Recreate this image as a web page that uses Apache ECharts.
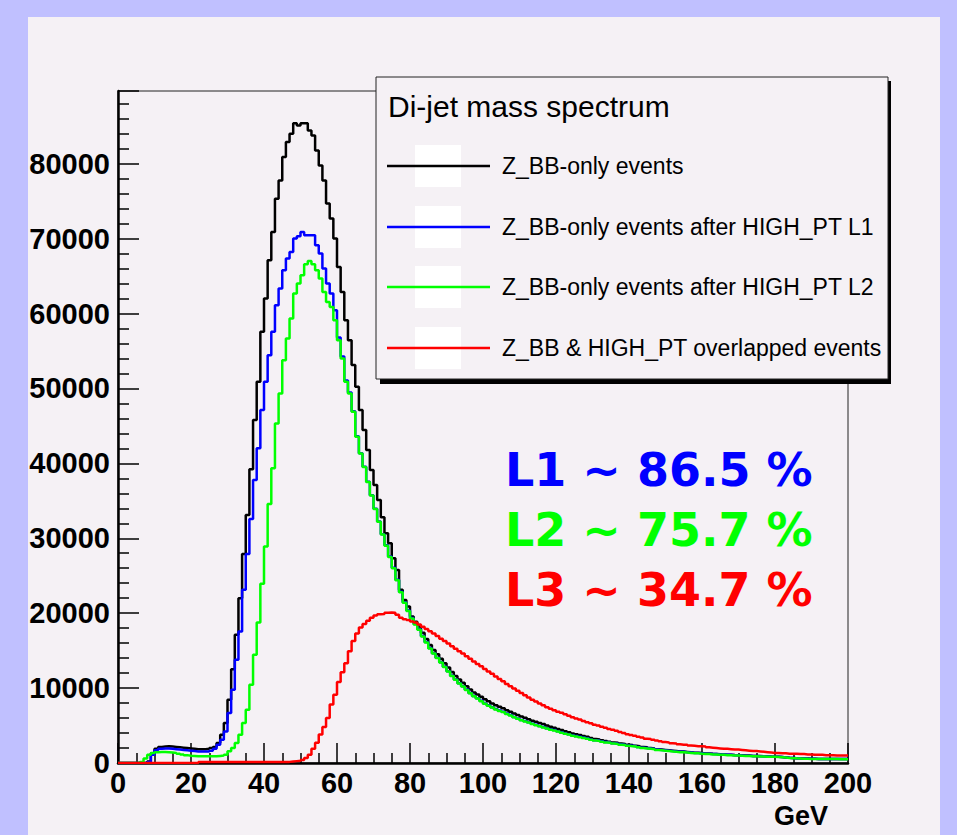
<!DOCTYPE html>
<html>
<head>
<meta charset="utf-8">
<title>Di-jet mass spectrum</title>
<script src="https://cdn.jsdelivr.net/npm/echarts@6/dist/echarts.min.js"></script>
<style>
  html, body { margin: 0; padding: 0; background: #c0c0ff; }
  #dijet-mass { width: 957px; height: 835px; }
</style>
</head>
<body>
<div id="dijet-mass"></div>
<script>
// bins: 1 GeV wide, lower edges 0..199
var binStart = 0
var binWidth = 1

var seriesNames = [
  'Z_BB-only events',
  'Z_BB-only events after HIGH_PT L1',
  'Z_BB-only events after HIGH_PT L2',
  'Z_BB & HIGH_PT overlapped events'
]
var seriesColors = ['#000000', '#0000ff', '#00ff00', '#ff0000']

// Z_BB-only
var zbbOnly = [
  0, 0, 0, 0, 0, 0, 0, 0, 200, 1300,
  1900, 2150, 2200, 2250, 2200, 2150, 2100, 2050, 2000, 1950,
  1900, 1850, 1850, 1850, 1900, 2000, 2150, 2670, 3770, 5330,
  8440, 12530, 17110, 22000, 27910, 33110, 39200, 45770, 50880, 57550,
  62000, 67110, 70880, 75330, 77770, 80880, 82880, 84000, 85400, 85100,
  85400, 85400, 84440, 83770, 81770, 79770, 77770, 74670, 72670, 70000,
  66210, 62880, 59110, 56440, 53110, 50210, 47110, 44440, 41770, 39110,
  37110, 35110, 32800, 30670, 29330, 27330, 25770, 23110, 21770, 20880,
  19550, 18850, 18230, 17400, 16550, 15750, 15100, 14500, 13900, 13300,
  12750, 12150, 11600, 11150, 10700, 10250, 9800, 9400, 9150, 8850,
  8500, 8250, 7950, 7700, 7500, 7300, 7050, 6850, 6600, 6400,
  6200, 6050, 5850, 5650, 5500, 5350, 5200, 5000, 4850, 4700,
  4550, 4400, 4250, 4100, 3950, 3850, 3750, 3600, 3500, 3350,
  3200, 3150, 3050, 2950, 2850, 2750, 2700, 2600, 2550, 2450,
  2400, 2300, 2250, 2150, 2100, 2000, 1950, 1850, 1800, 1750,
  1700, 1650, 1600, 1550, 1520, 1480, 1420, 1380, 1360, 1320,
  1280, 1260, 1220, 1200, 1160, 1150, 1100, 1100, 1060, 1040,
  1020, 1000, 990, 950, 940, 920, 900, 880, 860, 850,
  830, 790, 750, 710, 680, 650, 630, 610, 590, 570,
  560, 550, 550, 550, 540, 540, 540, 530, 530, 530
]

// after HIGH_PT L1
var afterL1 = [
  0, 0, 0, 0, 0, 0, 0, 0, 150, 1100,
  1700, 1900, 1950, 1950, 1900, 1850, 1800, 1750, 1700, 1650,
  1600, 1550, 1550, 1550, 1550, 1650, 1900, 2440, 3110, 4220,
  6670, 9770, 13780, 17560, 23110, 27910, 32580, 37780, 42000, 47110,
  50880, 54440, 57550, 61110, 63330, 65770, 67330, 68220, 70000, 70310,
  70880, 70440, 70440, 70440, 69110, 68000, 66000, 64000, 62670, 60440,
  56800, 54250, 51050, 49450, 46950, 43600, 41350, 39550, 37550, 35750,
  33950, 32250, 30550, 29050, 27550, 26050, 24450, 22850, 21450, 20350,
  19350, 18550, 17850, 16950, 16150, 15350, 14650, 14050, 13450, 12850,
  12250, 11650, 11150, 10650, 10250, 9800, 9350, 8950, 8650, 8300,
  7950, 7700, 7450, 7200, 7000, 6850, 6600, 6400, 6150, 5950,
  5750, 5600, 5450, 5250, 5100, 4950, 4800, 4650, 4500, 4400,
  4240, 4090, 3940, 3840, 3690, 3590, 3490, 3390, 3290, 3140,
  3040, 2990, 2890, 2790, 2740, 2640, 2590, 2490, 2440, 2340,
  2290, 2240, 2140, 2040, 1990, 1940, 1890, 1790, 1740, 1690,
  1640, 1590, 1540, 1490, 1490, 1440, 1390, 1340, 1340, 1290,
  1240, 1240, 1190, 1190, 1140, 1140, 1090, 1090, 1040, 1040,
  1010, 980, 980, 930, 930, 910, 900, 880, 860, 850,
  830, 790, 750, 710, 680, 650, 625, 605, 585, 570,
  560, 550, 550, 550, 540, 540, 540, 530, 530, 530
]

// after HIGH_PT L2
var afterL2 = [
  0, 0, 0, 0, 0, 0, 150, 600, 1100, 1350,
  1450, 1480, 1480, 1450, 1400, 1350, 1250, 1150, 1050, 980,
  940, 900, 890, 890, 890, 890, 900, 950, 1000, 1110,
  1560, 2000, 2670, 3780, 5330, 7110, 10440, 14440, 18760, 23910,
  28890, 34580, 39330, 45330, 49330, 53770, 56670, 59330, 62670, 64000,
  65110, 66570, 67020, 66570, 65770, 64660, 62880, 61550, 60880, 59110,
  56440, 54000, 50880, 49330, 46880, 43550, 41300, 39500, 37500, 35700,
  33900, 32200, 30500, 29000, 27500, 26000, 24400, 22800, 21400, 20300,
  19300, 18500, 17800, 16900, 16100, 15300, 14600, 14000, 13400, 12800,
  12200, 11600, 11100, 10600, 10200, 9750, 9300, 8900, 8600, 8250,
  7900, 7650, 7400, 7150, 6950, 6800, 6550, 6350, 6100, 5900,
  5700, 5550, 5400, 5200, 5050, 4900, 4750, 4600, 4450, 4350,
  4200, 4050, 3900, 3800, 3650, 3550, 3450, 3350, 3250, 3100,
  3000, 2950, 2850, 2750, 2700, 2600, 2550, 2450, 2400, 2300,
  2250, 2200, 2100, 2000, 1950, 1900, 1850, 1750, 1700, 1650,
  1600, 1550, 1500, 1450, 1450, 1400, 1350, 1300, 1300, 1250,
  1200, 1200, 1150, 1150, 1100, 1100, 1050, 1050, 1000, 1000,
  980, 950, 950, 900, 900, 880, 870, 850, 830, 820,
  800, 760, 720, 680, 650, 620, 600, 580, 560, 550,
  540, 530, 530, 530, 520, 520, 520, 510, 510, 510
]

// Z_BB & HIGH_PT overlapped
var overlapped = [
  0, 0, 0, 0, 0, 0, 0, 0, 0, 0,
  0, 0, 0, 0, 0, 0, 0, 0, 0, 0,
  0, 0, 130, 130, 130, 130, 130, 130, 130, 130,
  130, 130, 130, 130, 130, 130, 130, 130, 130, 130,
  130, 130, 130, 130, 130, 130, 150, 200, 250, 300,
  400, 670, 1110, 1900, 2700, 3800, 4800, 6000, 7800, 9100,
  10800, 12100, 13300, 14900, 16300, 17300, 18100, 18550, 19000, 19400,
  19700, 19850, 19900, 20050, 20080, 20050, 19800, 19400, 19200, 19100,
  18900, 18750, 18500, 18200, 17900, 17600, 17300, 16950, 16600, 16300,
  15950, 15600, 15250, 14900, 14600, 14250, 13900, 13550, 13200, 12900,
  12550, 12200, 11900, 11550, 11200, 10900, 10550, 10250, 9950, 9650,
  9350, 9050, 8750, 8450, 8200, 7950, 7700, 7450, 7250, 7050,
  6850, 6700, 6500, 6300, 6100, 5950, 5800, 5600, 5450, 5300,
  5100, 5000, 4850, 4700, 4550, 4450, 4300, 4150, 4000, 3850,
  3750, 3650, 3500, 3400, 3250, 3200, 3100, 3000, 2900, 2800,
  2750, 2650, 2600, 2500, 2450, 2450, 2350, 2300, 2250, 2250,
  2200, 2100, 2050, 2000, 1950, 1900, 1900, 1850, 1800, 1800,
  1750, 1700, 1650, 1600, 1600, 1550, 1500, 1450, 1400, 1350,
  1350, 1300, 1300, 1250, 1250, 1250, 1200, 1200, 1150, 1150,
  1100, 1100, 1100, 1050, 1050, 1050, 1000, 1000, 1000, 1000
]

var efficiencyTexts = ['L1 ~ 86.5 %', 'L2 ~ 75.7 %', 'L3 ~ 34.7 %']
var efficiencyColors = ['#0000ff', '#00ff00', '#ff0000']

var axisFont = "'Liberation Sans', Arial, sans-serif"

dijetMassSpectrum()


// bin values -> step line points (last bin closed at its upper edge)
function histPoints(values) {
  var pts = []
  for (var i = 0; i < values.length; i++) {
    pts.push([binStart + i * binWidth, values[i]])
  }
  pts.push([binStart + values.length * binWidth, values[values.length - 1]])
  return pts
}


function dijetMassSpectrum() {
  var myChart = echarts.init(document.getElementById('dijet-mass'), null, { renderer: 'svg' })

  var allValues = [zbbOnly, afterL1, afterL2, overlapped]
  var series = []
  for (var i = 0; i < allValues.length; i++) {
    series.push({
      name: seriesNames[i],
      type: 'line',
      step: 'end',
      symbol: 'none',
      silent: true,
      lineStyle: { color: seriesColors[i], width: 2.5 },
      data: histPoints(allValues[i])
    })
  }

  // legend box (ROOT style) drawn by hand
  var legendY = [166, 227, 287, 348]
  var graphics = [
    { type: 'rect', z: -10, shape: { x: 28, y: 17, width: 912, height: 818 }, style: { fill: '#f5f1f5' } },
    { type: 'rect', z: 100, shape: { x: 380, y: 81, width: 511, height: 303 }, style: { fill: '#000' } },
    { type: 'rect', z: 101, shape: { x: 376, y: 77, width: 512, height: 302 }, style: { fill: '#f5f1f5', stroke: '#222', lineWidth: 1 } },
    {
      type: 'text', z: 102, x: 388, y: 106,
      style: { text: 'Di-jet mass spectrum', fill: '#000', font: "30px " + axisFont, align: 'left', verticalAlign: 'middle' }
    },
    {
      type: 'text', z: 102, x: 828, y: 816,
      style: { text: 'GeV', fill: '#000', font: "bold 27px " + axisFont, align: 'right', verticalAlign: 'middle' }
    }
  ]
  for (var j = 0; j < seriesNames.length; j++) {
    graphics.push({ type: 'rect', z: 102, shape: { x: 415, y: legendY[j] - 21, width: 46, height: 42 }, style: { fill: '#ffffff' } })
    graphics.push({ type: 'line', z: 103, shape: { x1: 387, y1: legendY[j], x2: 490, y2: legendY[j] }, style: { stroke: seriesColors[j], lineWidth: 2.5 } })
    graphics.push({
      type: 'text', z: 103, x: 502, y: legendY[j],
      style: { text: seriesNames[j], fill: '#000', font: "23px " + axisFont, align: 'left', verticalAlign: 'middle' }
    })
  }
  var effY = [470, 530, 590]
  for (var k = 0; k < efficiencyTexts.length; k++) {
    graphics.push({
      type: 'text', z: 103, x: 505, y: effY[k],
      style: { text: efficiencyTexts[k], fill: efficiencyColors[k], font: "bold 46px 'DejaVu Sans', sans-serif", align: 'left', verticalAlign: 'middle' }
    })
  }

  var option = {
    backgroundColor: '#c0c0ff',
    animation: false,
    grid: {
      left: 118,
      right: 109,
      top: 91,
      bottom: 72,
      show: true,
      borderColor: '#222',
      borderWidth: 1,
      backgroundColor: 'transparent'
    },
    xAxis: {
      type: 'value',
      min: 0,
      max: 200,
      interval: 20,
      axisLine: { show: true, onZero: false, lineStyle: { color: '#000', width: 2.5 } },
      axisTick: { show: true, inside: true, length: 20, lineStyle: { color: '#000', width: 1.5 } },
      minorTick: { show: true, splitNumber: 4, length: 10, lineStyle: { color: '#000', width: 1.5 } },
      axisLabel: { margin: 5, color: '#000', fontFamily: axisFont, fontWeight: 'bold', fontSize: 29 },
      splitLine: { show: false }
    },
    yAxis: {
      type: 'value',
      min: 0,
      max: 89700,
      interval: 10000,
      axisLine: { show: true, onZero: false, lineStyle: { color: '#000', width: 2.5 } },
      axisTick: { show: true, inside: true, length: 21, lineStyle: { color: '#000', width: 1.5 } },
      minorTick: { show: true, splitNumber: 5, length: 11, lineStyle: { color: '#000', width: 1.5 } },
      axisLabel: {
        margin: 8,
        color: '#000',
        fontFamily: axisFont,
        fontWeight: 'bold',
        fontSize: 29,
        showMaxLabel: false,
        formatter: function (v) { return v % 10000 === 0 ? String(v) : '' }
      },
      splitLine: { show: false }
    },
    graphic: graphics,
    series: series
  }

  myChart.setOption(option)
}
</script>
</body>
</html>
